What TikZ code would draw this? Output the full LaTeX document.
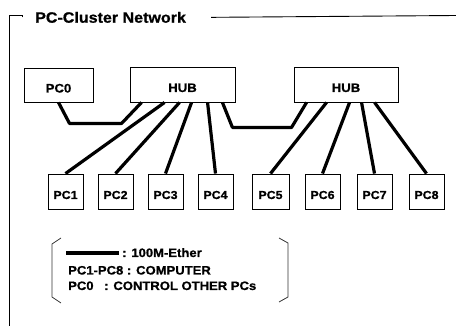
\documentclass[tikz,border=0pt]{standalone}
\usepackage{fontspec}
\setmainfont{Liberation Sans}[FakeStretch=1.07,BoldFeatures={FakeBold=0.8}]
\usetikzlibrary{calc}
\begin{document}
\begin{tikzpicture}[x=1pt,y=-1pt,
  box/.style={draw=black,line width=0.9pt,fill=white,inner sep=0pt,
    text height=15pt,text depth=0pt,font=\fontsize{11.6}{13}\selectfont\bfseries},
  bigbox/.style={box,font=\fontsize{12.3}{14}\selectfont\bfseries},
  ether/.style={line width=3.2pt,line join=round},
  frameline/.style={line width=0.9pt},
  bracketline/.style={line width=0.8pt,black!80},
  legtext/.style={anchor=base west,inner sep=0pt,font=\fontsize{12.2}{14}\selectfont\bfseries}]
\useasboundingbox (0,0) rectangle (456,326);
% frame and title
\node[anchor=base west,inner sep=0pt,font=\fontsize{15}{17}\selectfont\bfseries] (title) at (35,22.7) {PC-Cluster Network};
\coordinate (ftl) at (9,15.5);
\coordinate (fbl) at (9,326);
\coordinate (ftr) at (456,15.5);
\draw[frameline] ($(title.west)+(-13,0)$) |- (ftl) -- (fbl);
\draw[frameline] ($(title.east)+(25,0)$) -- (ftr);
% boxes
\node[bigbox,minimum width=69pt,minimum height=34pt] (pc0) at (58.5,85) {PC0};
\node[bigbox,minimum width=105pt,minimum height=35pt] (hub1) at (182.5,84.5) {HUB};
\node[bigbox,minimum width=104pt,minimum height=35pt] (hub2) at (346,84.5) {HUB};
\foreach \n/\x/\w in {1/65.5/35,2/115.5/35,3/165.5/35,4/215.5/35,5/270.5/37,6/322.5/35,7/374.5/35,8/426.5/35}{
  \node[box,minimum width=\w pt,minimum height=35pt] (pc\n) at (\x,191.5) {PC\n};
}
% connectors
\draw[ether] (pc0.south) -- ++(11,21) -- ($(hub1.south west)+(-8,21)$) -- ($(hub1.south west)+(12,0)$);
\draw[ether] ($(hub1.south east)+(-13,0)$) -- ++(10,25) -- ($(hub2.south west)+(-2,25)$) -- ($(hub2.south west)+(13,0)$);
\draw[ether] ($(hub1.south west)+(35,0)$) -- (pc1.north);
\draw[ether] ($(hub1.south west)+(50,0)$) -- (pc2.north);
\draw[ether] ($(hub1.south west)+(62,0)$) -- (pc3.north);
\draw[ether] ($(hub1.south west)+(78,0)$) -- (pc4.north);
\draw[ether] ($(hub2.south west)+(33,0)$) -- (pc5.north);
\draw[ether] ($(hub2.south west)+(56,0)$) -- (pc6.north);
\draw[ether] ($(hub2.south west)+(68,0)$) -- (pc7.north);
\draw[ether] ($(hub2.south west)+(81,0)$) -- (pc8.north);
% legend
\draw[bracketline] (61,238) -- (52,244) -- (52,297) -- (61,303);
\draw[bracketline] (279,238) -- (288,243) -- (288,297) -- (279,302);
\coordinate (lg1) at (66,253);
\coordinate (lg2) at (119,253);
\draw[ether] (lg1) -- (lg2);
\node[legtext] (l1) at (122,257) {: 100M-Ether};
\node[legtext] (l2) at (68,274.5) {PC1-PC8 : COMPUTER};
\node[legtext] (l3a) at (68,290) {PC0};
\node[legtext] (l3b) at (104,290) {: CONTROL OTHER PCs};
\end{tikzpicture}
\end{document}
